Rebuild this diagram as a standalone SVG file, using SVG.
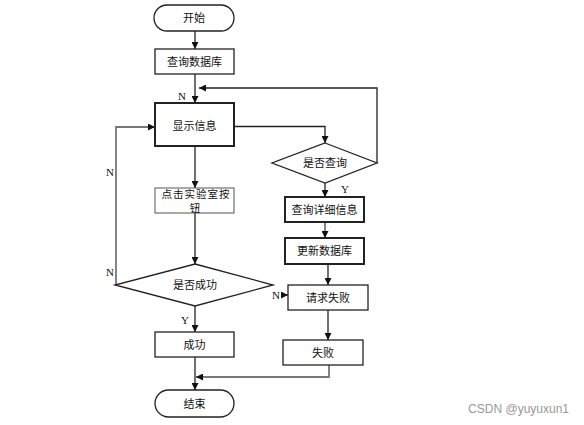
<svg xmlns="http://www.w3.org/2000/svg" width="584" height="425" viewBox="0 0 584 425">
<style>
.b{fill:#fff;stroke:#222;stroke-width:1.3}
.bb{fill:#fff;stroke:#222;stroke-width:2}
.t{font-family:"Noto Sans CJK SC","Liberation Sans",sans-serif;font-size:11px;fill:#111;text-anchor:middle}
.l{font-family:"Liberation Serif",serif;font-size:11px;fill:#111;text-anchor:middle}
.c{fill:none;stroke:#222;stroke-width:1.3}
.g{fill:none;stroke:#777;stroke-width:1.8}
</style>
<defs>
<marker id="a" viewBox="0 0 10 10" refX="10" refY="5" markerWidth="7" markerHeight="7" markerUnits="userSpaceOnUse" orient="auto"><path d="M0,0L10,5L0,10z" fill="#111"/></marker>
</defs>
<rect width="584" height="425" fill="#fff"/>
<g id="connectors">
<path class="c" d="M195,31V49" marker-end="url(#a)"/>
<path class="c" d="M195,74V103" marker-end="url(#a)"/>
<path class="c" d="M234,126.5H325V143" marker-end="url(#a)"/>
<path class="c" d="M377,163V88H199" marker-end="url(#a)"/>
<path class="c" d="M325,183V197" marker-end="url(#a)"/>
<path class="g" d="M325,222V238" marker-end="url(#a)"/>
<path class="c" d="M328,264V285" marker-end="url(#a)"/>
<path class="c" d="M328,310V340" marker-end="url(#a)"/>
<path class="g" d="M329,365V377H196" marker-end="url(#a)"/>
<path class="c" d="M195,146V188" marker-end="url(#a)"/>
<path class="c" d="M195,213V264" marker-end="url(#a)"/>
<path class="g" d="M116,285V127H155" marker-end="url(#a)"/>
<path class="c" d="M281,295H288" marker-end="url(#a)"/>
<path class="c" d="M195,306V332" marker-end="url(#a)"/>
<path class="c" d="M195,357V390" marker-end="url(#a)"/>
<text class="l" x="182" y="100">N</text>
<text class="l" x="345" y="193">Y</text>
<text class="l" x="110" y="176">N</text>
<text class="l" x="110" y="276">N</text>
<text class="l" x="276" y="299">N</text>
<text class="l" x="185" y="324">Y</text>
</g>
<g id="start"><rect class="b" x="154" y="5" width="80" height="26" rx="13"/><text class="t" x="194" y="22">开始</text></g>
<g id="query-db"><rect class="b" x="155" y="49" width="79" height="25"/><text class="t" x="194.5" y="66">查询数据库</text></g>
<g id="show-info"><rect class="bb" x="155" y="103" width="79" height="43"/><text class="t" x="194.5" y="130">显示信息</text></g>
<g id="click-lab"><rect class="b" x="155" y="188" width="79" height="25" style="stroke:#555;stroke-width:1"/><text class="t" x="196" y="198" style="letter-spacing:1px;font-size:10.5px">点击实验室按</text><text class="t" x="195" y="212" style="font-size:10.5px">钮</text></g>
<g id="is-success"><polygon class="b" points="195,264 273,285 195,306 115,285"/><text class="t" x="195" y="289">是否成功</text></g>
<g id="success"><rect class="b" x="155" y="332" width="79" height="25"/><text class="t" x="194.5" y="349">成功</text></g>
<g id="end"><rect class="b" x="155" y="390" width="79" height="27" rx="13.5"/><text class="t" x="194.5" y="408">结束</text></g>
<g id="is-query"><polygon class="b" points="325,143 377,163 325,183 272,163"/><text class="t" x="325" y="167">是否查询</text></g>
<g id="query-detail"><rect class="bb" x="285" y="197" width="79" height="25"/><text class="t" x="324.5" y="214">查询详细信息</text></g>
<g id="update-db"><rect class="bb" x="285" y="238" width="79" height="26"/><text class="t" x="324.5" y="255">更新数据库</text></g>
<g id="request-fail"><rect class="b" x="288" y="285" width="80" height="25"/><text class="t" x="328" y="302">请求失败</text></g>
<g id="fail"><rect class="b" x="283" y="340" width="80" height="25"/><text class="t" x="323" y="357">失败</text></g>
<text x="569" y="413" style="font-family:'Liberation Sans',sans-serif;font-size:12px;fill:#999;text-anchor:end">CSDN @yuyuxun1</text>
</svg>
